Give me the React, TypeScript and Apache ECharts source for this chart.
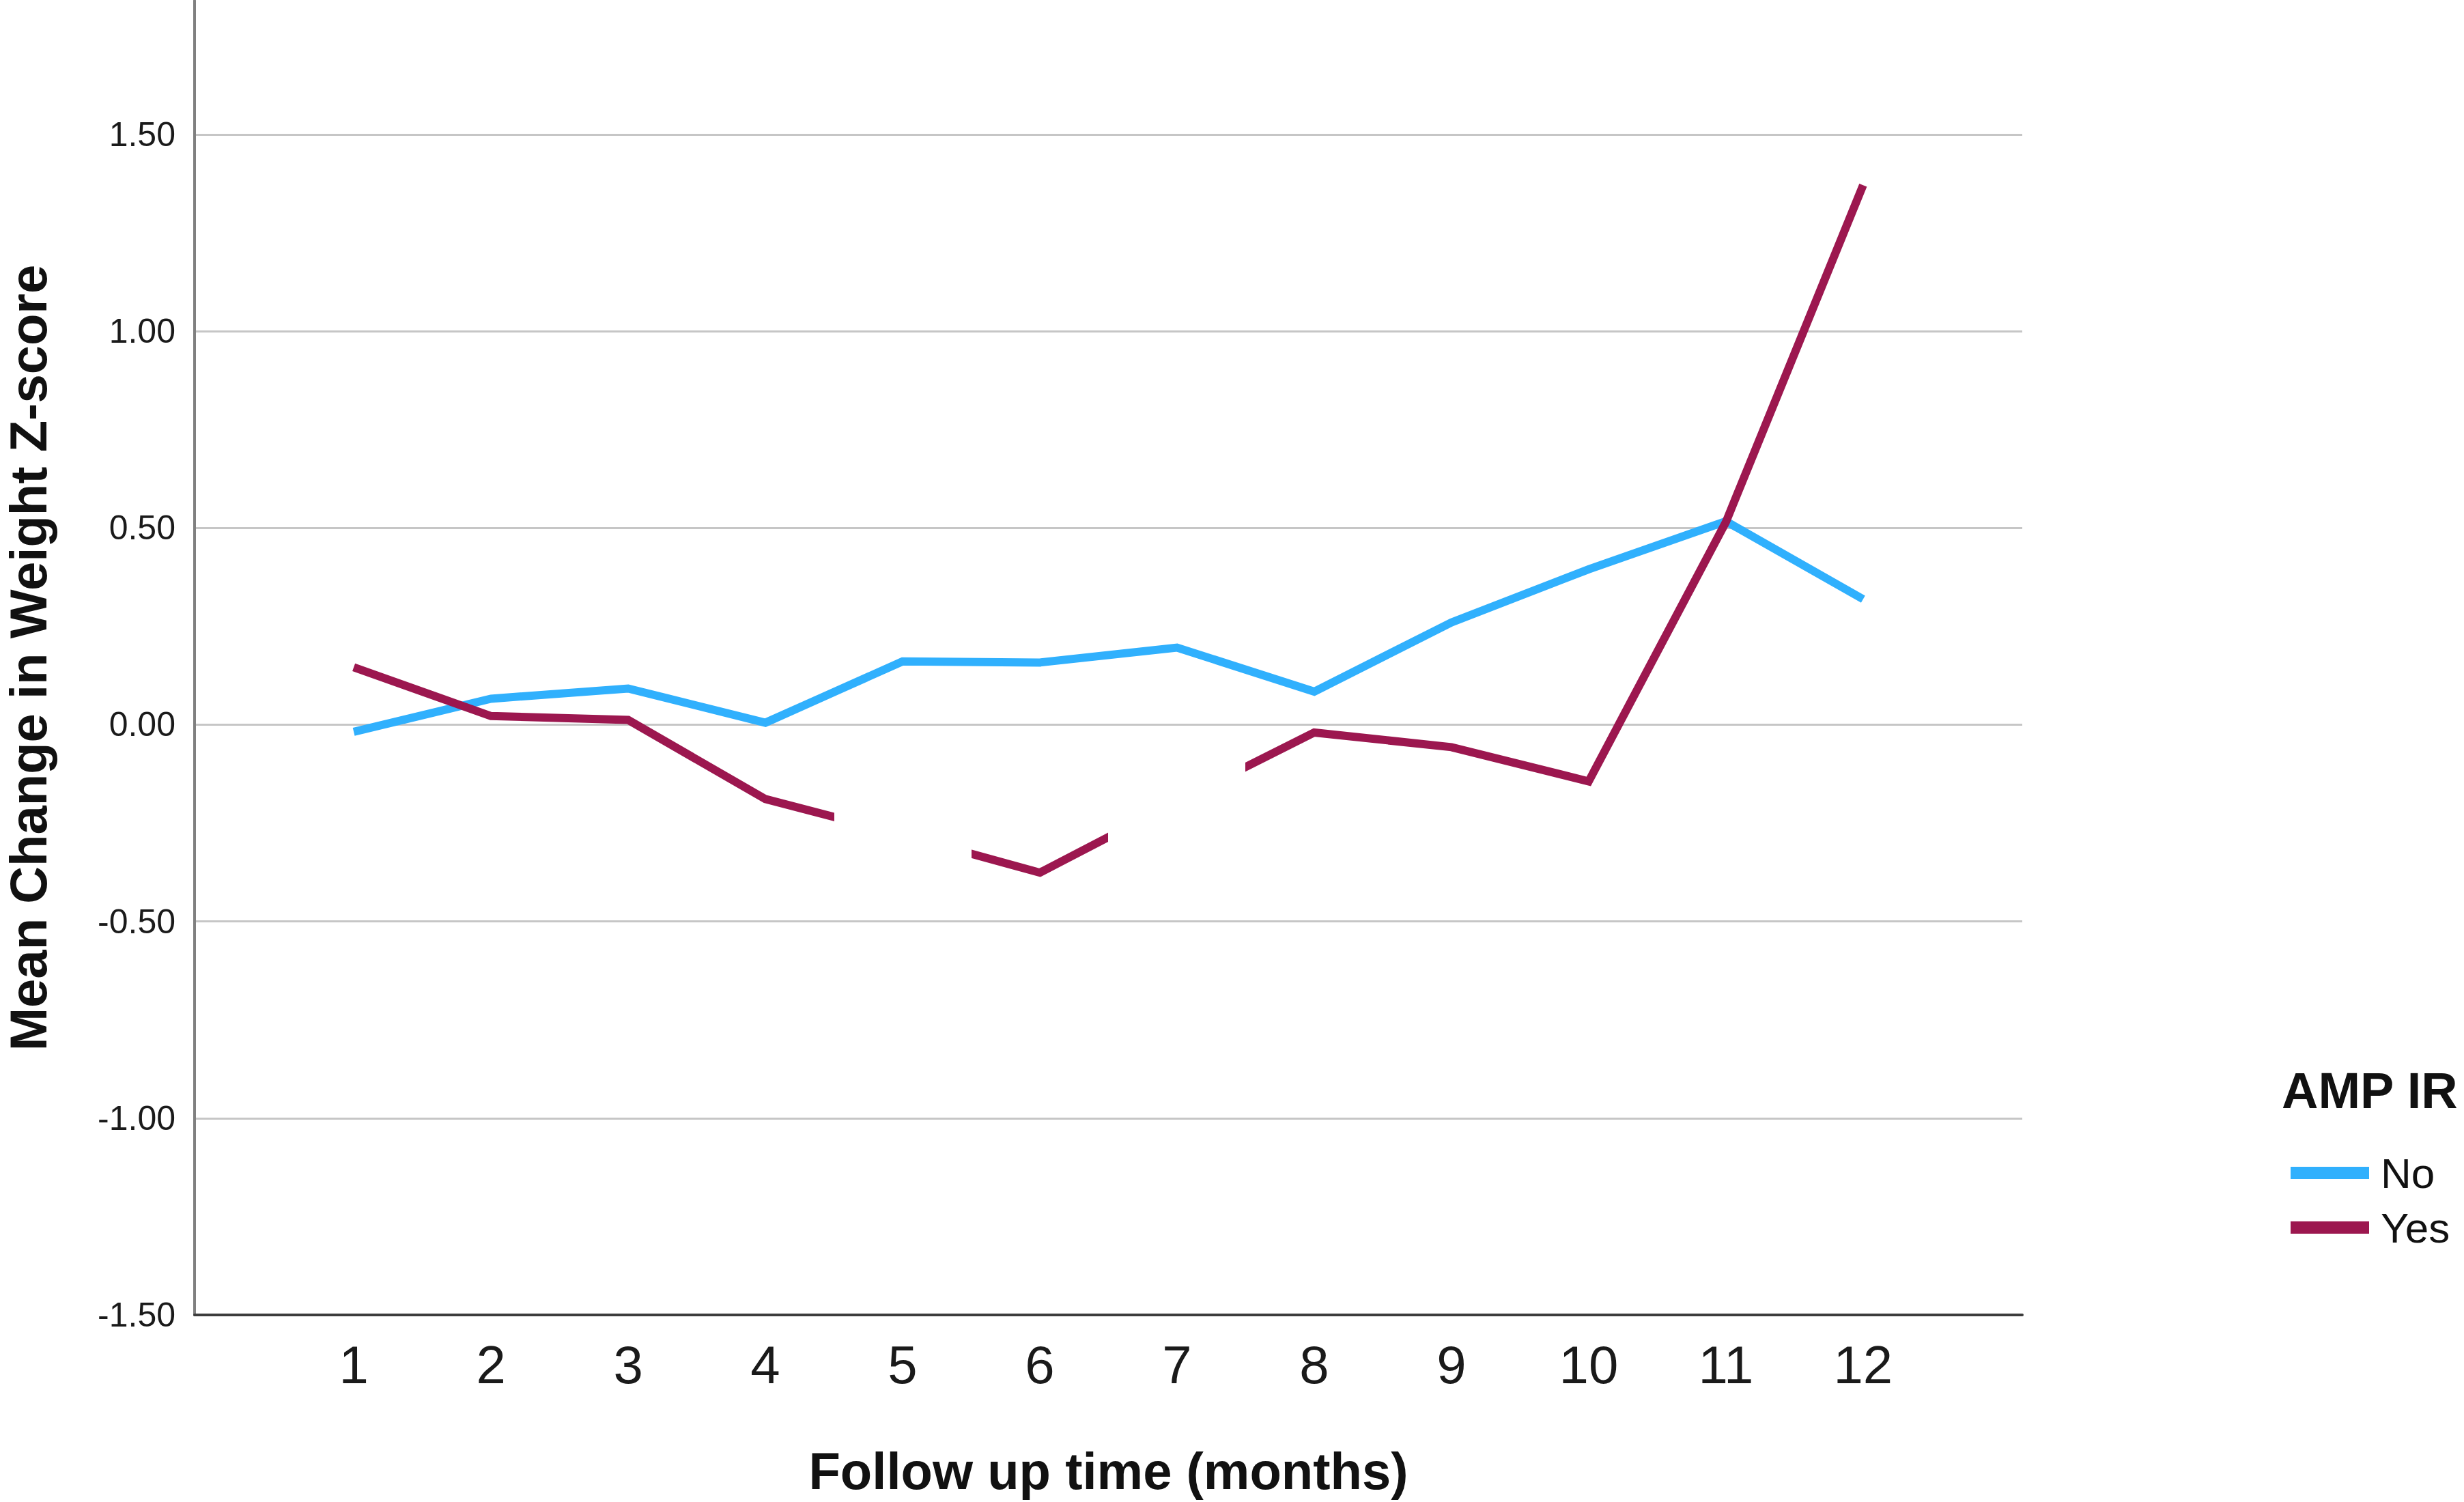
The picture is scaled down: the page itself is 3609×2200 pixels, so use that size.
import React, { useEffect, useRef } from "react";
import * as echarts from "echarts";

const months = [1, 2, 3, 4, 5, 6, 7, 8, 9, 10, 11, 12];
const noValues = [-0.018, 0.066, 0.092, 0.005, 0.161, 0.158, 0.196, 0.084, 0.26, 0.395, 0.517, 0.319];
const yesValues = [0.146, 0.022, 0.012, -0.189, -0.28, -0.376, -0.195, -0.02, -0.057, -0.144, 0.515, 1.371];
const yesHiddenMonths = [5, 7];
const yTicks = [-1.5, -1.0, -0.5, 0, 0.5, 1.0, 1.5];
const seriesNames = ["No", "Yes"];
const legendTitle = "AMP IR";
const xTitle = "Follow up time (months)";
const yTitle = "Mean Change in Weight Z-score";

const BLUE = "#30b0fd";
const RED = "#9c174f";
const FONT = "'Liberation Sans', Arial, sans-serif";

export default function App() {
  const ref = useRef<HTMLDivElement>(null);

  useEffect(() => {
    if (!ref.current) return;
    const chart = echarts.init(ref.current, undefined, { renderer: "svg" });

    const pieces: any[] = [];
    let start = -Infinity;
    yesHiddenMonths.forEach((m) => {
      pieces.push({ gte: start, lt: m - 0.5, color: RED });
      pieces.push({ gte: m - 0.5, lt: m + 0.5, color: "rgba(0,0,0,0)" });
      start = m + 0.5;
    });
    pieces.push({ gte: start, color: RED });

    chart.setOption({
      animation: false,
      backgroundColor: "#ffffff",
      grid: {
        left: 285,
        right: 3609 - 2962,
        top: 1,
        bottom: 2200 - 1926,
        containLabel: false,
        outerBoundsMode: "none",
      },
      title: {
        text: legendTitle,
        left: 3342,
        top: 1560,
        padding: 0,
        textStyle: { fontFamily: FONT, fontWeight: "bold", fontSize: 74, color: "#111" },
      },
      legend: {
        orient: "vertical",
        left: 3350,
        top: 1682,
        itemWidth: 115,
        itemHeight: 18,
        itemGap: 18,
        icon: "rect",
        textStyle: { fontFamily: FONT, fontSize: 62, color: "#111", padding: [0, 0, 0, 12] },
        data: [
          { name: seriesNames[0], itemStyle: { color: BLUE } },
          { name: seriesNames[1], itemStyle: { color: RED } },
        ],
      },
      visualMap: {
        type: "piecewise",
        show: false,
        seriesIndex: 1,
        dimension: 0,
        pieces,
      },
      xAxis: {
        type: "value",
        min: -0.16,
        max: 13.16,
        name: xTitle,
        nameLocation: "middle",
        nameGap: 190,
        nameTextStyle: { fontFamily: FONT, fontWeight: "bold", fontSize: 76, color: "#111" },
        axisLine: { show: true, onZero: false, lineStyle: { color: "#3c3c3c", width: 4 } },
        axisTick: { show: false },
        splitLine: { show: false },
        axisLabel: {
          customValues: months,
          formatter: (v: number) => String(v),
          margin: 34,
          fontFamily: FONT,
          fontSize: 78,
          color: "#1a1a1a",
        },
      },
      yAxis: {
        type: "value",
        min: yTicks[0],
        max: 1.84,
        interval: 0.5,
        name: yTitle,
        nameLocation: "middle",
        nameGap: 206,
        nameTextStyle: { fontFamily: FONT, fontWeight: "bold", fontSize: 76, color: "#111" },
        axisLine: { show: true, onZero: false, lineStyle: { color: "#808080", width: 4 } },
        axisTick: { show: false },
        splitLine: { show: true, showMaxLine: false, lineStyle: { color: "#c6c6c6", width: 3 } },
        axisLabel: {
          showMaxLabel: false,
          formatter: (v: number) => (yTicks.some((t) => Math.abs(t - v) < 1e-9) ? v.toFixed(2) : ""),
          margin: 28,
          fontFamily: FONT,
          fontSize: 50,
          color: "#1a1a1a",
        },
      },
      series: [
        {
          name: seriesNames[0],
          type: "line",
          data: months.map((m, i) => [m, noValues[i]]),
          showSymbol: false,
          symbol: "none",
          color: BLUE,
          lineStyle: { color: BLUE, width: 12, cap: "butt", join: "miter" },
          z: 2,
        },
        {
          name: seriesNames[1],
          type: "line",
          data: months.map((m, i) => [m, yesValues[i]]),
          showSymbol: false,
          symbol: "none",
          color: RED,
          lineStyle: { width: 12, cap: "butt", join: "miter" },
          z: 3,
        },
      ],
    });

    return () => chart.dispose();
  }, []);

  return (
    <div
      ref={ref}
      style={{ position: "absolute", left: 0, top: 0, width: 3609, height: 2200, background: "#fff" }}
    />
  );
}
